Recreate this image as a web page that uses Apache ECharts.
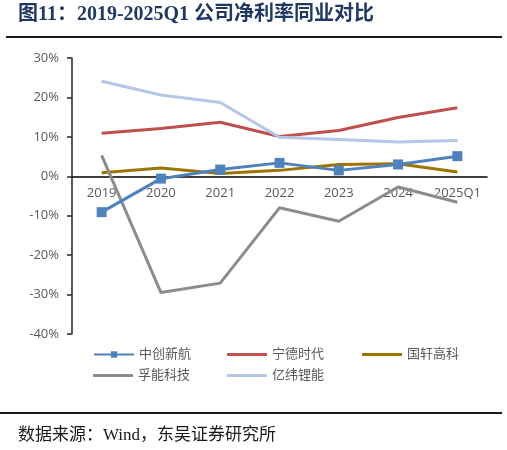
<!DOCTYPE html>
<html>
<head>
<meta charset="utf-8">
<script src="https://cdn.jsdelivr.net/npm/echarts@6/dist/echarts.min.js"></script>
<style>
html,body{margin:0;padding:0;background:#fff;}
#c{width:507px;height:450px;}
</style>
</head>
<body>
<div id="c"></div>
<script>
const categories = ['2019','2020','2021','2022','2023','2024','2025Q1'];
const zcxh = [-9.1, -0.6, 1.7, 3.4, 1.5, 3.0, 5.1];
const ndsd = [10.9, 12.1, 13.7, 10.1, 11.6, 14.9, 17.4];
const gxgk = [0.9, 2.1, 0.7, 1.5, 3.0, 3.2, 1.1];
const fnkj = [5.3, -29.5, -27.1, -8.0, -11.4, -2.7, -6.6];
const ywln = [24.1, 20.6, 18.7, 9.9, 9.3, 8.7, 9.1];
const seriesNames = ['中创新航','宁德时代','国轩高科','孚能科技','亿纬锂能'];
const yTicks = {min:-40, max:30, interval:10};

const colors = ['#4F81BD','#C0504D','#9C7400','#8C8C8C','#B4C7E7'];
const dataSets = [zcxh, ndsd, gxgk, fnkj, ywln];

const gridTop = 58, gridBottom = 116, chartH = 450;
const plotH = chartH - gridTop - gridBottom;
const zeroOffset = plotH * (0 - yTicks.min) / (yTicks.max - yTicks.min);

const chart = echarts.init(document.getElementById('c'));
const labelFont = '"Open Sans","Noto Sans CJK SC",sans-serif';

const series = seriesNames.map((n, i) => ({
  name: n,
  type: 'line',
  data: dataSets[i],
  symbol: i === 0 ? 'rect' : 'none',
  symbolSize: 10,
  showSymbol: i === 0,
  lineStyle: {width: 3, color: colors[i]},
  itemStyle: {color: colors[i]},
  z: i === 0 ? 10 : 2 + i,
  animation: false
}));

const legendPos = [
  {left: 93, top: 348}, {left: 227, top: 348}, {left: 362, top: 348},
  {left: 93, top: 369}, {left: 227, top: 369}
];
const legends = seriesNames.map((n, i) => ({
  data: i === 0 ? [{name: n}] : [{name: n, icon: 'rect'}],
  left: legendPos[i].left,
  top: legendPos[i].top,
  itemWidth: 40,
  itemHeight: i === 0 ? 8 : 3,
  itemGap: 4,
  padding: 0,
  textStyle: {fontSize: 13, color: '#595959', fontFamily: labelFont},
  selectedMode: false
}));

chart.setOption({
  animation: false,
  backgroundColor: '#fff',
  grid: {left: 72, right: 20, top: gridTop, bottom: gridBottom, containLabel: false},
  legend: legends,
  xAxis: {
    type: 'category',
    data: categories,
    boundaryGap: true,
    position: 'bottom',
    offset: -zeroOffset,
    axisLine: {onZero: false, lineStyle: {color: '#000', width: 1.5}},
    axisTick: {show: false},
    axisLabel: {fontSize: 13, color: '#595959', margin: 11, fontFamily: labelFont, interval: 0}
  },
  yAxis: {
    type: 'value',
    min: yTicks.min, max: yTicks.max, interval: yTicks.interval,
    axisLine: {show: true, lineStyle: {color: '#262626', width: 1.5}},
    axisTick: {show: true, inside: false, length: 5, lineStyle: {color: '#262626', width: 1.5}},
    splitLine: {show: false},
    axisLabel: {fontSize: 13, color: '#595959', margin: 13, fontFamily: labelFont, formatter: '{value}%'}
  },
  series: series,
  graphic: [
    {type: 'text', left: 18, top: 5, style: {text: '图11：2019-2025Q1 公司净利率同业对比', font: 'bold 20px "Liberation Serif","Noto Sans CJK SC",serif', fill: '#1F3864'}},
    {type: 'rect', shape: {x: 6, y: 36, width: 496, height: 2}, style: {fill: '#1a1a1a'}},
    {type: 'rect', shape: {x: 0, y: 412, width: 502, height: 2}, style: {fill: '#1a1a1a'}},
    {type: 'text', left: 18, top: 427, style: {text: '数据来源：Wind，东吴证券研究所', font: '17px "Liberation Serif","Noto Sans CJK SC",serif', fill: '#1a1a1a'}}
  ]
});
</script>
</body>
</html>
